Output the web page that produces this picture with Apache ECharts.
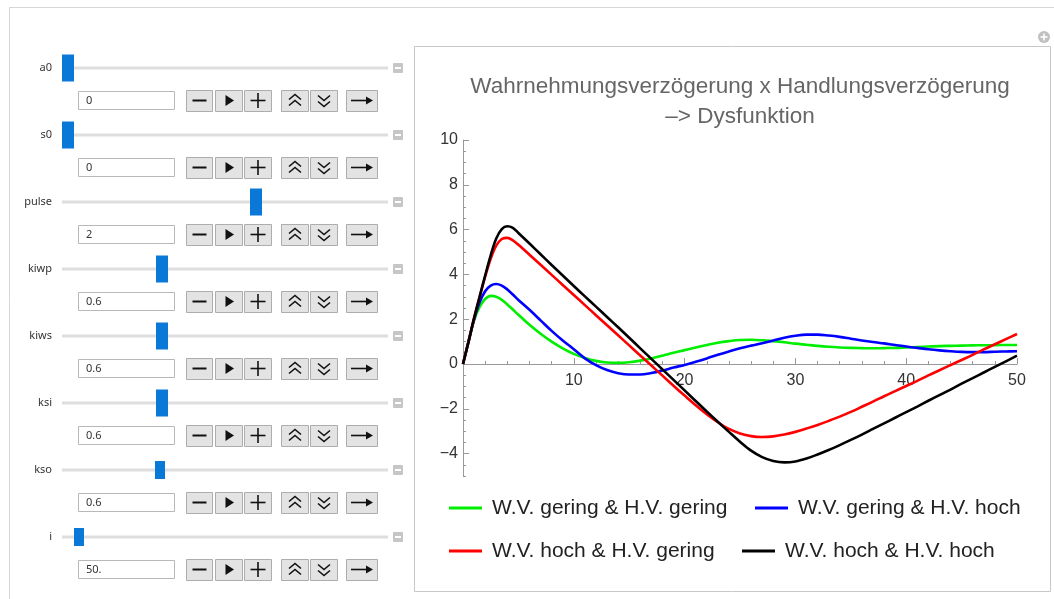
<!DOCTYPE html>
<html><head><meta charset="utf-8">
<script src="https://cdn.jsdelivr.net/npm/echarts@6/dist/echarts.min.js"></script>
<style>html,body{margin:0;padding:0;background:#fff}#c{width:1054px;height:599px}</style>
</head><body><div id="c"></div>
<script>
// ---------- data ----------
const xValues = [0,0.5,1,1.5,2,2.5,3,3.5,4,4.5,5,6,7,8,9,10,11,12,13,14,15,16,17,18,19,20,21,22,23,24,25,26,27,28,29,30,31,32,33,34,35,36,37,38,39,40,41,42,43,44,45,46,47,48,49,50];
const greenVals = [0,1.0,1.95,2.55,2.9,3.04,3.0,2.86,2.66,2.43,2.2,1.75,1.35,1.0,0.7,0.45,0.27,0.14,0.07,0.05,0.08,0.15,0.25,0.37,0.5,0.62,0.74,0.85,0.95,1.02,1.07,1.08,1.06,1.02,0.97,0.91,0.86,0.81,0.77,0.74,0.72,0.71,0.7,0.71,0.72,0.74,0.76,0.78,0.8,0.81,0.82,0.83,0.84,0.84,0.85,0.85];
const blueVals = [0,1.0,1.98,2.75,3.25,3.5,3.57,3.5,3.33,3.1,2.86,2.42,1.95,1.48,1.05,0.66,0.25,-0.05,-0.27,-0.41,-0.47,-0.47,-0.4,-0.29,-0.16,-0.04,0.1,0.25,0.41,0.56,0.7,0.82,0.93,1.05,1.17,1.26,1.31,1.31,1.27,1.21,1.13,1.05,0.98,0.92,0.85,0.78,0.72,0.66,0.61,0.57,0.54,0.53,0.53,0.55,0.56,0.57];
const redVals = [0,1.0,2.05,3.0,3.9,4.7,5.28,5.58,5.63,5.52,5.32,4.88,4.43,3.98,3.53,3.08,2.63,2.18,1.73,1.28,0.83,0.38,-0.07,-0.52,-0.97,-1.41,-1.84,-2.24,-2.6,-2.9,-3.1,-3.22,-3.26,-3.23,-3.15,-3.03,-2.88,-2.72,-2.54,-2.35,-2.14,-1.91,-1.68,-1.44,-1.21,-0.98,-0.75,-0.51,-0.28,-0.05,0.18,0.41,0.65,0.88,1.11,1.34];
const blackVals = [0,1.0,2.05,3.0,3.95,4.85,5.6,6.02,6.15,6.08,5.85,5.38,4.9,4.42,3.95,3.48,3.02,2.56,2.1,1.64,1.17,0.7,0.23,-0.24,-0.71,-1.18,-1.65,-2.12,-2.58,-3.03,-3.47,-3.87,-4.16,-4.33,-4.39,-4.35,-4.22,-4.04,-3.84,-3.62,-3.39,-3.15,-2.9,-2.65,-2.4,-2.15,-1.9,-1.64,-1.39,-1.14,-0.88,-0.63,-0.38,-0.13,0.12,0.37];
const seriesNames = ['W.V. gering & H.V. gering','W.V. gering & H.V. hoch','W.V. hoch & H.V. gering','W.V. hoch & H.V. hoch'];
const titleLines = ['Wahrnehmungsverzögerung x Handlungsverzögerung','–> Dysfunktion'];
const yTickLabels = [-4,-2,0,2,4,6,8,10];
const xTickLabels = [10,20,30,40,50];
const controlNames = ['a0','s0','pulse','kiwp','kiws','ksi','kso','i'];
const controlValues = ['0','0','2','0.6','0.6','0.6','0.6','50.'];

// ---------- layout ----------
const colors = ['#00ee00','#0000ff','#ff0000','#000000'];
const handleX = [68,68,256,162,162,162,160,79];
const handleW = [12,12,12,12,12,12,10,10];
const handleH = [27,27,27,27,27,27,18,18];
const rowY0 = 68, rowStep = 67;
const ctlFont = '11px "Noto Sans", "Open Sans", sans-serif';

const g = [];
// outer frame and chart panel
g.push({type:'rect', silent:true, shape:{x:9.5,y:7.5,width:1100,height:700}, style:{fill:'none',stroke:'#d6d6d6',lineWidth:1}});
g.push({type:'rect', silent:true, shape:{x:414.5,y:46.5,width:636,height:545}, style:{fill:'#fff',stroke:'#c8c8c8',lineWidth:1}, z:-1});
// plus icon
g.push({type:'circle', silent:true, shape:{cx:1044,cy:37,r:6}, style:{fill:'#c0c0c0'}});
g.push({type:'line', silent:true, shape:{x1:1040.5,y1:37,x2:1047.5,y2:37}, style:{stroke:'#fff',lineWidth:1.6}});
g.push({type:'line', silent:true, shape:{x1:1044,y1:33.5,x2:1044,y2:40.5}, style:{stroke:'#fff',lineWidth:1.6}});
// title
titleLines.forEach((t,i)=>{
  g.push({type:'text', silent:true, style:{text:t, x:740, y:87+i*30, fill:'#666', font:'22.5px "Liberation Sans", Arial, sans-serif', align:'center', verticalAlign:'middle', textAlign:'center', textVerticalAlign:'middle'}});
});
// controls
const btnX = [[186,212],[215,242],[244,271],[281,308],[310,337],[346,377]];
controlNames.forEach((name,i)=>{
  const y = rowY0 + i*rowStep;
  g.push({type:'text', silent:true, style:{text:name, x:52, y:y, fill:'#333', font:ctlFont, align:'right', verticalAlign:'middle', textAlign:'right', textVerticalAlign:'middle'}});
  g.push({type:'rect', silent:true, shape:{x:62,y:y-1.5,width:326,height:3}, style:{fill:'#dedede'}});
  g.push({type:'rect', silent:true, shape:{x:handleX[i]-handleW[i]/2,y:y-handleH[i]/2,width:handleW[i],height:handleH[i]}, style:{fill:'#0a78d6'}});
  g.push({type:'rect', silent:true, shape:{x:393,y:y-5,width:10,height:10,r:1}, style:{fill:'#c6c6c6'}});
  g.push({type:'line', silent:true, shape:{x1:395,y1:y,x2:401,y2:y}, style:{stroke:'#fff',lineWidth:2}});
  const by = y + 22, cy = y + 32.5;
  g.push({type:'rect', silent:true, shape:{x:78.5,y:y+23.5,width:96,height:18}, style:{fill:'#fff',stroke:'#b8b8b8',lineWidth:1}});
  g.push({type:'text', silent:true, style:{text:controlValues[i], x:86, y:cy, fill:'#333', font:ctlFont, align:'left', verticalAlign:'middle', textAlign:'left', textVerticalAlign:'middle'}});
  btnX.forEach((b,k)=>{
    g.push({type:'rect', silent:true, shape:{x:b[0]+0.5,y:by+0.5,width:b[1]-b[0],height:21}, style:{fill:'#e3e3e3',stroke:'#adadad',lineWidth:1}});
    const cx = (b[0]+b[1])/2 + 0.5;
    const st = {stroke:'#111', lineWidth:1.6, fill:'none'};
    if (k===0) g.push({type:'line', silent:true, shape:{x1:cx-7,y1:cy,x2:cx+7,y2:cy}, style:{stroke:'#111',lineWidth:2}});
    if (k===1) g.push({type:'polygon', silent:true, shape:{points:[[cx-3.5,cy-5.5],[cx-3.5,cy+5.5],[cx+5,cy]]}, style:{fill:'#111'}});
    if (k===2) { g.push({type:'line', silent:true, shape:{x1:cx-7.5,y1:cy,x2:cx+7.5,y2:cy}, style:st}); g.push({type:'line', silent:true, shape:{x1:cx,y1:cy-7.5,x2:cx,y2:cy+7.5}, style:st}); }
    if (k===3) { g.push({type:'polyline', silent:true, shape:{points:[[cx-6,cy-1],[cx,cy-6],[cx+6,cy-1]]}, style:st}); g.push({type:'polyline', silent:true, shape:{points:[[cx-6,cy+5],[cx,cy],[cx+6,cy+5]]}, style:st}); }
    if (k===4) { g.push({type:'polyline', silent:true, shape:{points:[[cx-6,cy-5],[cx,cy],[cx+6,cy-5]]}, style:st}); g.push({type:'polyline', silent:true, shape:{points:[[cx-6,cy+1],[cx,cy+6],[cx+6,cy+1]]}, style:st}); }
    if (k===5) { g.push({type:'line', silent:true, shape:{x1:cx-11,y1:cy,x2:cx+6,y2:cy}, style:st}); g.push({type:'polygon', silent:true, shape:{points:[[cx+11,cy],[cx+4,cy-4],[cx+4,cy+4]]}, style:{fill:'#111'}}); }
  });
});

const axisColor = '#999';
const labelStyle = {color:'#333', fontSize:16, fontFamily:'"Liberation Sans", Arial, sans-serif'};
const fmtMinus = v => String(v).replace('-', '−');

const series = [greenVals, blueVals, redVals, blackVals].map((vals,i)=>({
  name: seriesNames[i], type:'line', xAxisIndex:0, yAxisIndex:0,
  data: xValues.map((x,j)=>[x, vals[j]]),
  smooth: 0.35, showSymbol:false, symbol:'none',
  lineStyle:{color:colors[i], width:2.6}, itemStyle:{color:colors[i]}, z: 3+i
}));

const legendPos = [[444,491],[750,491],[444,534],[737,534]];
const legends = seriesNames.map((n,i)=>({
  data:[n], left:legendPos[i][0], top:legendPos[i][1], orient:'horizontal',
  icon:'rect', itemWidth:33, itemHeight:3, selectedMode:false,
  textStyle:{color:'#222', fontSize:21, lineHeight:24, fontFamily:'"Liberation Sans", Arial, sans-serif', padding:[0,0,0,5]}
}));

// plot grid: y from -5 (bottom) to 10 (top); zero line at 140 + 10*22.4 = 364
const plotGrid = {left:463, right:37, top:140, bottom:123};
const xAxisGrid = {left:463, right:37, top:140, bottom:235};
const option = {
  animation:false,
  backgroundColor:'#fff',
  grid:[Object.assign({},plotGrid), Object.assign({},plotGrid), xAxisGrid],
  xAxis:[
    {type:'value', gridIndex:0, min:0, max:50, show:false},
    {type:'value', gridIndex:1, min:0, max:50, show:false},
    {type:'value', gridIndex:2, min:0, max:50, interval:10, position:'bottom',
     axisLine:{show:true, onZero:false, lineStyle:{color:axisColor, width:1}},
     axisTick:{show:true, inside:true, length:6, lineStyle:{color:axisColor}},
     minorTick:{show:true, splitNumber:5, length:3, lineStyle:{color:axisColor}},
     axisLabel:Object.assign({margin:9, formatter: v => (v===0 ? '' : String(v))}, labelStyle),
     splitLine:{show:false}, minorSplitLine:{show:false}}
  ],
  yAxis:[
    {type:'value', gridIndex:0, min:-5, max:10, interval:0.5,
     axisLine:{show:true, onZero:false, lineStyle:{color:axisColor, width:1}},
     axisTick:{show:true, inside:true, length:3, lineStyle:{color:axisColor}},
     axisLabel:{show:false}, splitLine:{show:false}},
    {type:'value', gridIndex:1, min:-5, max:10, interval:0.5,
     axisLine:{show:false, onZero:false},
     axisTick:{show:true, inside:true, length:6, lineStyle:{color:axisColor}, customValues:yTickLabels},
     axisLabel:Object.assign({margin:5, customValues:yTickLabels, formatter:fmtMinus}, labelStyle), splitLine:{show:false}},
    {type:'value', gridIndex:2, min:0, max:10, show:false}
  ],
  legend: legends,
  graphic:{elements:g},
  series: series
};
const chart = echarts.init(document.getElementById('c'), null, {renderer:'canvas'});
chart.setOption(option);
</script>
</body></html>
